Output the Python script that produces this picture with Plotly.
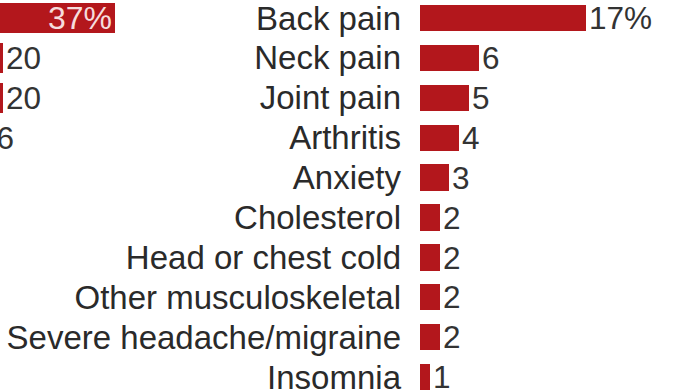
import plotly.graph_objects as go

# Right panel: conditions and share of respondents (%)
conditions = [
    "Back pain", "Neck pain", "Joint pain", "Arthritis", "Anxiety",
    "Cholesterol", "Head or chest cold", "Other musculoskeletal",
    "Severe headache/migraine", "Insomnia",
]
condition_values = [17, 6, 5, 4, 3, 2, 2, 2, 2, 1]
condition_labels = ["17%", "6", "5", "4", "3", "2", "2", "2", "2", "1"]

# Left panel (neighbouring chart, only its right end is in view)
left_rows = [0, 1, 2, 3]
left_values = [37, 20, 20, 16]
left_labels = ["37%", "20", "20", "16"]

BAR = "#b3171c"
TEXT = "#333333"
FONT = "Liberation Sans, Arial, sans-serif"
W, H = 682, 390

# pixel geometry of the two panels
right_start_px = 420
right_px_per_unit = 9.75
left_end_px = 115
left_px_per_unit = 6.6
left_width_frac = 0.3

row0_px, row_step_px = 18, 39.9
y_top = -row0_px / row_step_px
y_bottom = (H - row0_px) / row_step_px

fig = go.Figure()

# left bars; clipped to the panel so labels past the left edge are cut
fig.add_trace(go.Bar(
    x=left_values, y=left_rows, orientation="h",
    marker=dict(color=BAR, line=dict(width=0)), width=0.75,
    text=left_labels,
    textposition=["inside"] + ["outside"] * (len(left_labels) - 1),
    insidetextanchor="end",
    insidetextfont=dict(family=FONT, size=32, color="#f6dcdc"),
    outsidetextfont=dict(family=FONT, size=31.5, color=TEXT),
    constraintext="none", cliponaxis=True,
    xaxis="x", yaxis="y", showlegend=False, hoverinfo="skip",
))

fig.add_trace(go.Bar(
    x=condition_values, y=conditions, orientation="h",
    marker=dict(color=BAR, line=dict(width=0)), width=0.66,
    text=condition_labels, textposition="outside",
    outsidetextfont=dict(family=FONT, size=31.5, color=TEXT),
    constraintext="none", cliponaxis=False,
    xaxis="x2", yaxis="y2", showlegend=False, hoverinfo="skip",
))

left_min = left_values[0] - left_end_px / left_px_per_unit
left_max = left_min + left_width_frac * W / left_px_per_unit
right_max = (W - right_start_px) / right_px_per_unit

fig.update_layout(
    width=W, height=H,
    margin=dict(l=0, r=0, t=0, b=0, pad=0),
    paper_bgcolor="white", plot_bgcolor="white",
    font=dict(family=FONT, size=32, color=TEXT),
    bargap=0,
    xaxis=dict(domain=[0, left_width_frac], range=[left_min, left_max],
               showgrid=False, zeroline=False, showticklabels=False,
               showline=False, fixedrange=True),
    yaxis=dict(anchor="x", range=[y_bottom, y_top], showgrid=False,
               zeroline=False, showticklabels=False, showline=False),
    xaxis2=dict(domain=[right_start_px / W, 1], range=[0, right_max],
                anchor="y2", showgrid=False, zeroline=False,
                showticklabels=False, showline=False),
    yaxis2=dict(anchor="x2", type="category", categoryorder="array",
                categoryarray=conditions, range=[y_bottom, y_top],
                tickmode="array", tickvals=conditions, ticktext=conditions,
                showgrid=False, zeroline=False, showline=False,
                ticks="", ticklabelstandoff=18, automargin=False,
                tickfont=dict(family=FONT, size=33, color="#2a2a2a")),
)

fig.write_html("out.html")
